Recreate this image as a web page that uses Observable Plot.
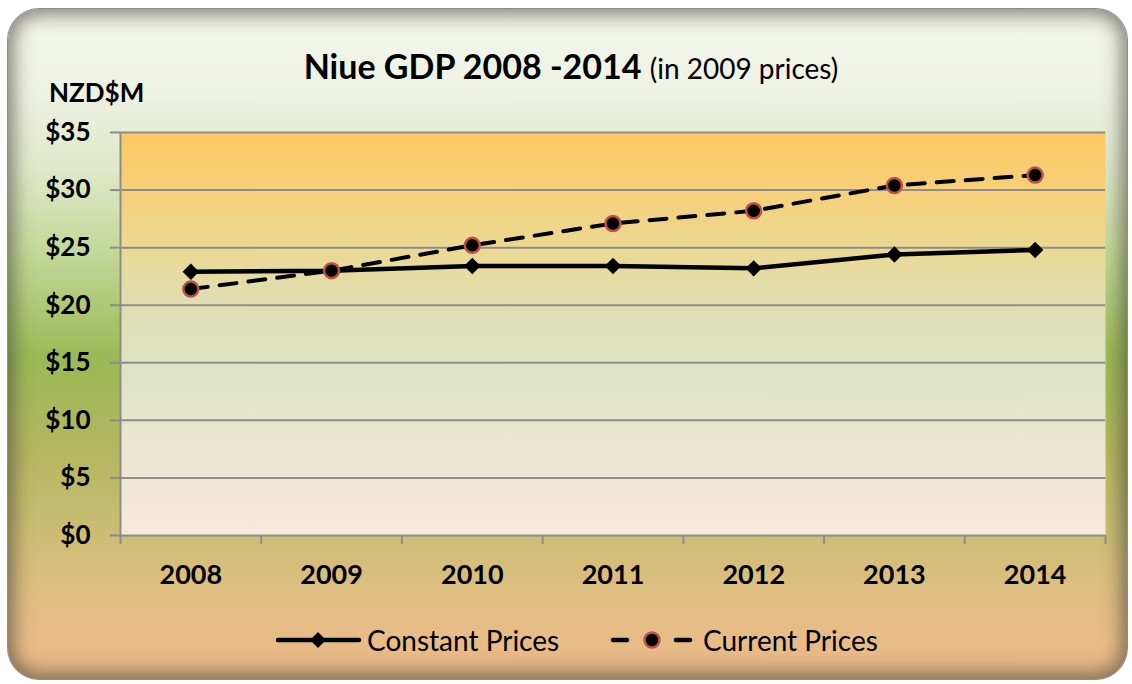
<!DOCTYPE html>
<html><head><meta charset="utf-8">
<script src="https://cdn.jsdelivr.net/npm/d3@7"></script>
<script src="https://cdn.jsdelivr.net/npm/@observablehq/plot@0.6"></script>
<style>
body{margin:0;background:#fff;width:1132px;height:684px;overflow:hidden;font-family:Lato,sans-serif;color:#000;}
#frame{position:absolute;left:7px;top:8px;width:1121px;height:672px;box-sizing:border-box;border:1.5px solid #8d8d8d;border-radius:32px;
 background:linear-gradient(to bottom,#f3f5ec 0%,#eef2e3 12%,#dfe8c9 24%,#c4d89a 36%,#9cb955 52%,#b2b760 66%,#cbbd74 78%,#dcbe80 86%,#e8bc88 94%,#e6b886 100%);
 box-shadow: inset 0 0 18px 6px rgba(70,65,55,0.62);}
#chart{position:absolute;left:0;top:0;}
.txt{position:absolute;white-space:nowrap;line-height:1;}
#title{left:0;width:1142px;text-align:center;top:49px;font-size:34px;font-weight:bold;}
#title span{font-weight:normal;font-size:28px;}
#unit{left:49px;top:79px;font-size:26px;font-weight:bold;}
.leg{top:626px;font-size:28px;}
.sw{position:absolute;top:630px;}
</style></head>
<body>
<div id="frame"></div>
<div id="chart"></div>
<div class="txt" id="title">Niue GDP 2008 -2014 <span>(in 2009 prices)</span></div>
<div class="txt" id="unit">NZD$M</div>
<svg class="sw" style="left:276px" width="86" height="20"><line x1="2" y1="10" x2="83" y2="10" stroke="#000" stroke-width="4.5" stroke-linecap="round"/><path d="M42,2 L50,10 L42,18 L34,10 Z" fill="#000"/></svg>
<div class="txt leg" style="left:367px">Constant Prices</div>
<svg class="sw" style="left:610px" width="84" height="20"><line x1="3" y1="10" x2="17" y2="10" stroke="#000" stroke-width="4.5" stroke-linecap="round"/><circle cx="42" cy="10" r="7.5" fill="#000" stroke="#c0504d" stroke-width="2.5"/><line x1="66" y1="10" x2="80" y2="10" stroke="#000" stroke-width="4.5" stroke-linecap="round"/></svg>
<div class="txt leg" style="left:703px">Current Prices</div>
<script>
const years = [2008, 2009, 2010, 2011, 2012, 2013, 2014];
const constantPrices = [22.9, 23.0, 23.4, 23.4, 23.2, 24.4, 24.8];
const currentPrices = [21.4, 23.0, 25.2, 27.1, 28.2, 30.4, 31.3];
const yTicks = [0, 5, 10, 15, 20, 25, 30, 35];
const bandEdges = [...years.map(y => y - 0.5), years[years.length - 1] + 0.5];

const constRows = years.map((year, i) => ({year, value: constantPrices[i]}));
const currRows = years.map((year, i) => ({year, value: currentPrices[i]}));

const grid = "#8c8c8c";
const svg = Plot.plot({
  width: 1132, height: 684,
  marginTop: 132, marginBottom: 149, marginLeft: 120, marginRight: 27,
  style: {background: "transparent", overflow: "visible", fontFamily: "Lato, sans-serif", color: "#000"},
  x: {domain: [bandEdges[0], bandEdges[bandEdges.length - 1]]},
  y: {domain: [yTicks[0], yTicks[yTicks.length - 1]]},
  marks: [
    Plot.frame({fill: "url(#plotBg)", stroke: null}),
    Plot.gridY(yTicks, {stroke: grid, strokeOpacity: 1, strokeWidth: 2}),
    Plot.ruleX([bandEdges[0]], {stroke: grid, strokeWidth: 2}),
    Plot.axisY(yTicks, {tickSize: 10, tickPadding: 20, tickFormat: d => "$" + d, stroke: grid, strokeWidth: 2, fontSize: 26, fontWeight: "bold", fill: "#000", label: null}),
    Plot.axisX(bandEdges, {tickSize: 9, tickFormat: () => "", stroke: grid, strokeWidth: 2, label: null}),
    Plot.axisX(years, {tickSize: 0, tickPadding: 29, tickFormat: d => String(d), fontSize: 27, fontWeight: "bold", fill: "#000", label: null}),
    Plot.line(constRows, {x: "year", y: "value", stroke: "#000", strokeWidth: 4.5}),
    Plot.dot(constRows, {x: "year", y: "value", symbol: "diamond2", r: 7.4, fill: "#000", stroke: null}),
    Plot.line(currRows, {x: "year", y: "value", stroke: "#000", strokeWidth: 4, strokeDasharray: "17,12"}),
    Plot.dot(currRows, {x: "year", y: "value", r: 7.5, fill: "#000", stroke: "#c0504d", strokeWidth: 2.5})
  ]
});
const defs = d3.select(svg).insert("defs", ":first-child");
const g = defs.append("linearGradient").attr("id", "plotBg").attr("x1", 0).attr("y1", 0).attr("x2", 0).attr("y2", 1);
[["0%", "#fec964"], ["14%", "#f6cf78"], ["28%", "#ecd891"], ["42%", "#e0deb2"], ["57%", "#dde3c4"], ["71%", "#e6e6cd"], ["86%", "#efe7d5"], ["100%", "#f9e9dc"]]
  .forEach(([o, c]) => g.append("stop").attr("offset", o).attr("stop-color", c));
document.getElementById("chart").appendChild(svg);
</script>
</body></html>
